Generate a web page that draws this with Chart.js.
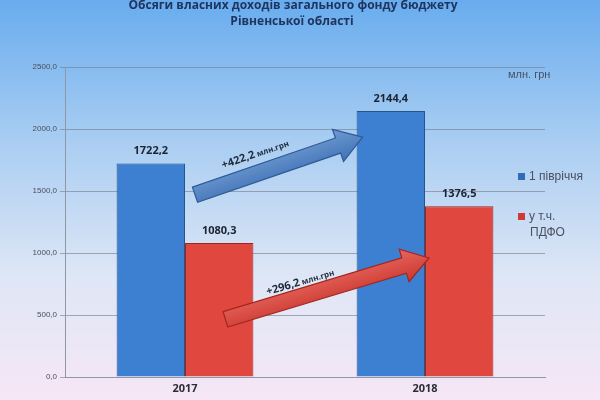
<!DOCTYPE html>
<html>
<head>
<meta charset="utf-8">
<script src="https://cdn.jsdelivr.net/npm/chart.js@4/dist/chart.umd.min.js"></script>
<style>
  html, body { margin: 0; padding: 0; background: #ffffff; }
  #wrap { width: 600px; height: 400px; }
</style>
</head>
<body>
<div id="wrap"><canvas id="budgetChart" width="600" height="400"></canvas></div>
<script>
// Дані діаграми
const years = ['2017', '2018'];
const halfYear = [1722.2, 2144.4];   // 1 півріччя
const pdfo = [1080.3, 1376.5];       // у т.ч. ПДФО
const yTicks = [0, 500, 1000, 1500, 2000, 2500];
const titleLines = ['Обсяги власних доходів загального фонду бюджету', 'Рівненської області'];
const legendLabels = ['1 півріччя', 'у т.ч.', 'ПДФО'];
const arrowLabels = ['+422,2', '+296,2'];

const fmt = v => v.toFixed(1).replace('.', ',');

// Фон слайда: небесний градієнт
const bgPlugin = {
    id: 'bg',
    beforeDraw(chart) {
        const { ctx, width, height } = chart;
        const g = ctx.createLinearGradient(0, 0, 0, height);
        g.addColorStop(0, '#68acee');
        g.addColorStop(0.35, '#a9cdf2');
        g.addColorStop(0.7, '#dfe7f6');
        g.addColorStop(1, '#f6e6f6');
        ctx.save();
        ctx.fillStyle = g;
        ctx.fillRect(0, 0, width, height);
        ctx.restore();
    }
};

function drawArrow(ctx, x1, y1, x2, y2, fill, stroke) {
    const ang = Math.atan2(y2 - y1, x2 - x1);
    const len = Math.hypot(x2 - x1, y2 - y1);
    const shaft = 8, head = 17, headLen = 26;
    ctx.save();
    ctx.translate(x1, y1);
    ctx.rotate(ang);
    ctx.beginPath();
    ctx.moveTo(0, -shaft);
    ctx.lineTo(len - headLen, -shaft);
    ctx.lineTo(len - headLen, -head);
    ctx.lineTo(len, 0);
    ctx.lineTo(len - headLen, head);
    ctx.lineTo(len - headLen, shaft);
    ctx.lineTo(0, shaft);
    ctx.closePath();
    const g = ctx.createLinearGradient(0, -head, 0, head);
    g.addColorStop(0, fill[0]);
    g.addColorStop(1, fill[1]);
    ctx.fillStyle = g;
    ctx.fill();
    ctx.lineWidth = 1.2;
    ctx.strokeStyle = stroke;
    ctx.stroke();
    ctx.restore();
}

function drawRotatedLabel(ctx, x, y, ang, main) {
    ctx.save();
    ctx.translate(x, y);
    ctx.rotate(ang);
    ctx.fillStyle = '#1d2a3a';
    ctx.textBaseline = 'alphabetic';
    ctx.textAlign = 'left';
    ctx.font = 'bold 11px "Open Sans", sans-serif';
    ctx.fillText(main, 0, 0);
    const w = ctx.measureText(main).width;
    ctx.font = 'bold 8px "Open Sans", sans-serif';
    ctx.fillText(' млн.грн', w, 0);
    ctx.restore();
}

const overlayPlugin = {
    id: 'overlay',
    afterDatasetsDraw(chart) {
        const { ctx } = chart;
        const y = chart.scales.y;
        const blue = chart.getDatasetMeta(0).data;
        const red = chart.getDatasetMeta(1).data;

        // стрілки приросту
        const a1 = [blue[0].x + blue[0].width / 2 + 10, y.getPixelForValue(1470),
                    blue[1].x - blue[1].width / 2 + 6, y.getPixelForValue(1935)];
        drawArrow(ctx, a1[0], a1[1], a1[2], a1[3], ['#6f9bd3', '#3f71b4'], '#2c5a94');
        const ang1 = Math.atan2(a1[3] - a1[1], a1[2] - a1[0]);
        drawRotatedLabel(ctx, a1[0] + 28, a1[1] - 26, ang1, arrowLabels[0]);

        const a2 = [red[0].x + red[0].width / 2 - 28, y.getPixelForValue(465),
                    red[1].x - red[1].width / 2 + 4, y.getPixelForValue(960)];
        drawArrow(ctx, a2[0], a2[1], a2[2], a2[3], ['#e8675e', '#c9372f'], '#a32620');
        const ang2 = Math.atan2(a2[3] - a2[1], a2[2] - a2[0]);
        drawRotatedLabel(ctx, a2[0] + 42, a2[1] - 24, ang2, arrowLabels[1]);

        // підписи значень
        ctx.save();
        ctx.font = 'bold 11px "Open Sans", sans-serif';
        ctx.fillStyle = '#1d2330';
        ctx.textAlign = 'center';
        ctx.textBaseline = 'bottom';
        [blue, red].forEach((bars, di) => {
            const vals = di === 0 ? halfYear : pdfo;
            bars.forEach((b, i) => ctx.fillText(fmt(vals[i]), b.x, b.y - 7));
        });
        ctx.restore();
    },
    afterDraw(chart) {
        const { ctx } = chart;
        ctx.save();
        // заголовок
        ctx.font = 'bold 12px "Open Sans", sans-serif';
        ctx.fillStyle = '#1f3560';
        ctx.textAlign = 'center';
        ctx.textBaseline = 'middle';
        ctx.fillText(titleLines[0], 293, 6);
        ctx.fillText(titleLines[1], 292, 22);

        // одиниці
        ctx.font = '11px "Liberation Sans", sans-serif';
        ctx.fillStyle = '#4a5060';
        ctx.textAlign = 'left';
        ctx.fillText('млн. грн', 508, 75);

        // легенда
        ctx.fillStyle = '#2f6db5';
        ctx.fillRect(518, 173, 7, 7);
        ctx.fillStyle = '#d13a34';
        ctx.fillRect(518, 213, 7, 7);
        ctx.font = '12px "Liberation Sans", sans-serif';
        ctx.fillStyle = '#4a5060';
        ctx.fillText(legendLabels[0], 529, 177);
        ctx.fillText(legendLabels[1], 529, 217);
        ctx.fillText(legendLabels[2], 530, 233);
        ctx.restore();
    }
};

function barGradient(ctx, chart, c1, c2, c3) {
    const area = chart.chartArea;
    if (!area) return c2;
    const el = ctx.element;
    if (!el || !el.width) return c2;
    const x0 = el.x - el.width / 2, x1 = el.x + el.width / 2;
    const g = chart.ctx.createLinearGradient(x0, 0, x1, 0);
    g.addColorStop(0, c1);
    g.addColorStop(0.5, c2);
    g.addColorStop(1, c3);
    return g;
}

new Chart(document.getElementById('budgetChart'), {
    type: 'bar',
    data: {
        labels: years,
        datasets: [
            {
                label: '1 півріччя',
                data: halfYear,
                backgroundColor: c => barGradient(c, c.chart, '#2a62a8', '#3d7fd0', '#2c66ae'),
                borderColor: '#24558f',
                borderWidth: 1,
                categoryPercentage: 0.57,
                barPercentage: 1.0
            },
            {
                label: 'у т.ч. ПДФО',
                data: pdfo,
                backgroundColor: c => barGradient(c, c.chart, '#c0302b', '#e0473f', '#c9342e'),
                borderColor: '#9e2622',
                borderWidth: 1,
                categoryPercentage: 0.57,
                barPercentage: 1.0
            }
        ]
    },
    options: {
        responsive: false,
        animation: false,
        layout: { padding: { top: 67, right: 55, left: 20, bottom: 0 } },
        plugins: {
            legend: { display: false },
            title: { display: false },
            tooltip: { enabled: false }
        },
        scales: {
            x: {
                grid: { display: false, drawTicks: false },
                border: { color: '#8f96a4', width: 1 },
                ticks: {
                    color: '#2c2c34',
                    font: { size: 11, weight: 'bold', family: '"Open Sans", sans-serif' },
                    padding: 5
                },
                afterFit: s => { s.height = 23; }
            },
            y: {
                min: 0,
                max: 2500,
                afterBuildTicks: s => { s.ticks = yTicks.map(v => ({ value: v })); },
                grid: { color: 'rgba(115,122,140,0.6)', tickLength: 5, lineWidth: 1 },
                border: { color: '#8f96a4', width: 1 },
                ticks: {
                    color: '#4a4f5c',
                    font: { size: 8, family: '"Liberation Sans", sans-serif' },
                    padding: 3,
                    callback: v => fmt(v)
                },
                afterFit: s => { s.width = 45; }
            }
        }
    },
    plugins: [bgPlugin, overlayPlugin]
});
</script>
</body>
</html>
